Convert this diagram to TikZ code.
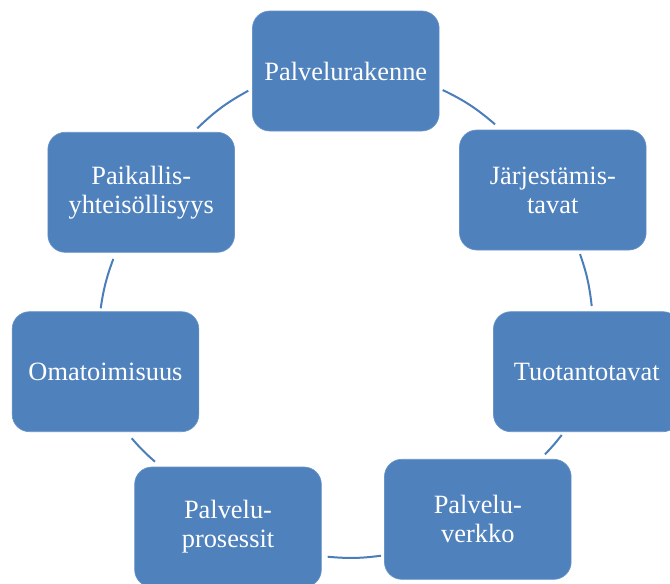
\documentclass[tikz,border=0pt]{standalone}
\usepackage{fontspec}
\setmainfont{Liberation Serif}
\definecolor{boxblue}{HTML}{4F81BD}
\definecolor{linkblue}{HTML}{4A7EBB}
\tikzset{
  cyclebox/.style={rectangle, rounded corners=13pt, fill=boxblue,
    draw=boxblue!85!white, line width=0.5pt,
    minimum width=140pt, minimum height=90pt, inner sep=0pt,
    text=white, align=center, font=\fontsize{19.8}{21.8}\selectfont},
  link/.style={draw=linkblue, line width=1.5pt}
}
\begin{document}
\begin{tikzpicture}[x=0.75pt,y=0.75pt]
  \clip (0,0) rectangle (670,-583);
  % the seven stages around the cycle
  \node[cyclebox] (rak) at (345.8,-71)    {Palvelurakenne};
  \node[cyclebox] (jar) at (552.8,-190)   {Järjestämis-\\tavat};
  \node[cyclebox] (tuo) at (586.8,-371.7) {Tuotantotavat};
  \node[cyclebox] (ver) at (477.8,-519.3) {Palvelu-\\verkko};
  \node[cyclebox] (pro) at (228,-527)     {Palvelu-\\prosessit};
  \node[cyclebox] (oma) at (105.5,-371.7) {Omatoimisuus};
  \node[cyclebox] (pai) at (141.2,-192.3) {Paikallis-\\yhteisöllisyys};
  % ends of the arcs, just clear of the boxes
  \coordinate (rakO) at (442.7,-90);   \coordinate (jarI) at (495,-124.3);
  \coordinate (jarO) at (580,-254);    \coordinate (tuoI) at (591.7,-306);
  \coordinate (tuoO) at (561.7,-435);  \coordinate (verI) at (545,-454.3);
  \coordinate (verO) at (381,-555.7);  \coordinate (proI) at (327.7,-556.7);
  \coordinate (proO) at (155,-461.7);  \coordinate (omaI) at (131.7,-438.3);
  \coordinate (omaO) at (100.7,-308.3);\coordinate (paiI) at (113.3,-259);
  \coordinate (paiO) at (197.3,-128.3);\coordinate (rakI) at (248.3,-90.7);
  % arcs joining neighbouring stages, clockwise
  \draw[link] (rakO) to[bend left=7.4] (jarI);
  \draw[link] (jarO) to[bend left=6.3] (tuoI);
  \draw[link] (tuoO) to[bend left=3.0] (verI);
  \draw[link] (verO) to[bend left=6.3] (proI);
  \draw[link] (proO) to[bend left=3.9] (omaI);
  \draw[link] (omaO) to[bend left=6.0] (paiI);
  \draw[link] (paiO) to[bend left=7.5] (rakI);
\end{tikzpicture}
\end{document}
